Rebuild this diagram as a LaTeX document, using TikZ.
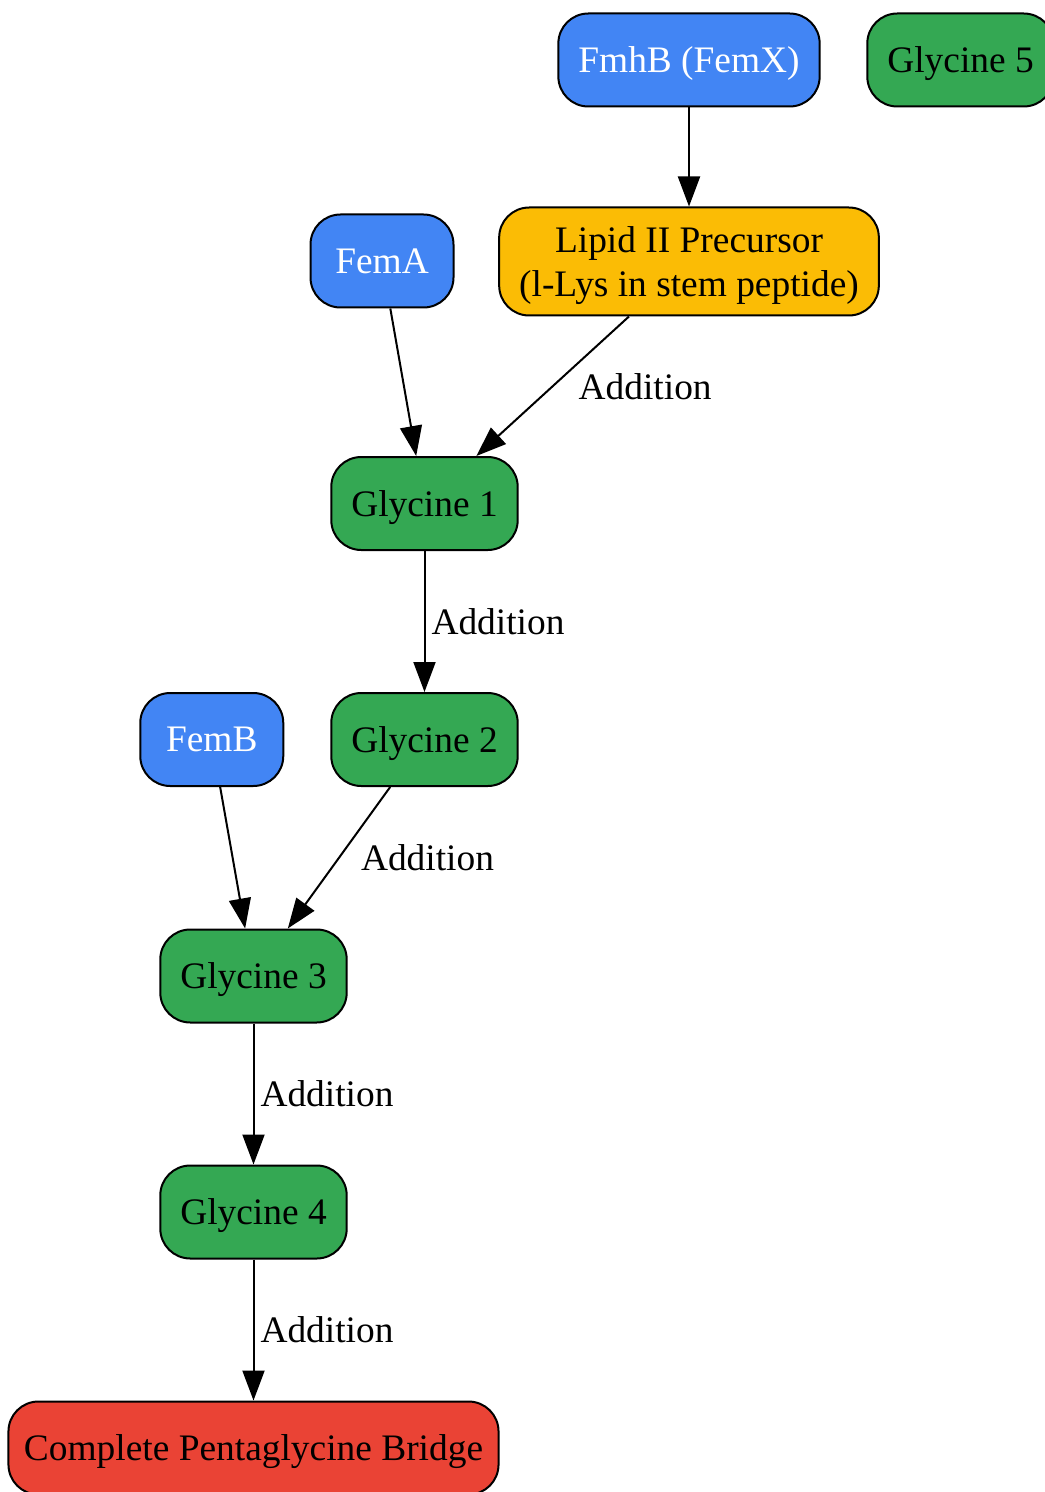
\documentclass[tikz,border=0pt]{standalone}
\usepackage{fontspec}
\setmainfont{Liberation Serif}
\usetikzlibrary{positioning,arrows.meta}
\definecolor{gblue}{HTML}{4285F4}
\definecolor{gyellow}{HTML}{FBBC05}
\definecolor{ggreen}{HTML}{34A853}
\definecolor{gred}{HTML}{EA4335}
\begin{document}
\begin{tikzpicture}[x=0.5pt,y=-0.5pt,
  every node/.style={font=\fontsize{18.7}{22}\selectfont},
  box/.style={draw, line width=1pt, rectangle, rounded corners=15pt, minimum height=46.5pt, inner xsep=10pt, text depth=0pt, align=center},
  enzyme/.style={box, fill=gblue, text=white, minimum width=71.5pt},
  glybox/.style={box, fill=ggreen},
  lbl/.style={inner sep=0pt, anchor=west},
  edge/.style={line width=1pt, -{Triangle[length=15pt,width=11pt]}}]
\useasboundingbox (0,0) rectangle (1044,1492);
\node[enzyme] (fmhb) at (689,60) {FmhB (FemX)};
\node[glybox] (gly5) at (960.5,60) {Glycine 5};
\node[box, fill=gyellow, minimum height=54pt, below=49.5pt of fmhb] (lipid) {Lipid II Precursor\\(l-Lys in stem peptide)};
\node[enzyme] (fema) at (382,261) {FemA};
\node[glybox] (gly1) at (424.5,503.5) {Glycine 1};
\node[glybox, below=70.5pt of gly1] (gly2) {Glycine 2};
\node[enzyme, left=23pt of gly2] (femb) {FemB};
\node[glybox] (gly3) at (253.5,976) {Glycine 3};
\node[glybox, below=70.5pt of gly3] (gly4) {Glycine 4};
\node[box, fill=gred, inner xsep=7.75pt, below=70.5pt of gly4] (bridge) {Complete Pentaglycine Bridge};

\draw[edge] (fmhb) -- (lipid);
\draw[edge] (fema) -- (gly1);
\draw[edge] (lipid) -- node[lbl, xshift=12.5pt] {Addition} (gly1);
\draw[edge] (gly1) -- node[lbl, xshift=3pt] {Addition} (gly2);
\draw[edge] (femb) -- (gly3);
\draw[edge] (gly2) -- node[lbl, xshift=10.5pt] {Addition} (gly3);
\draw[edge] (gly3) -- node[lbl, xshift=3pt] {Addition} (gly4);
\draw[edge] (gly4) -- node[lbl, xshift=3pt] {Addition} (bridge);
\end{tikzpicture}
\end{document}
